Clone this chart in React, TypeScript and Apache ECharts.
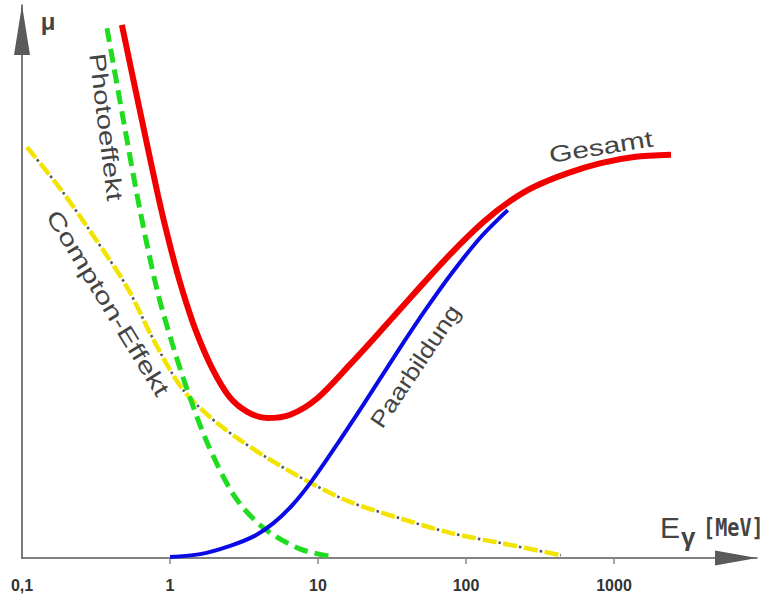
import React, { useEffect, useRef } from 'react';
import * as echarts from 'echarts';

// x-axis (photon energy, MeV, log scale)
const xTickValues = [1, 10, 100, 1000];
const xLabelValues = [0.1, 1, 10, 100, 1000];

// Gesamt (total attenuation)
const gesamtE = [0.473, 0.627, 0.831, 1.0, 1.2, 1.49, 1.92, 2.53, 3.35, 4.54, 6.49, 9.9, 16.6, 26.4, 44.2, 78.7, 131.6, 200, 287, 487, 815, 1364, 2428];
const gesamtMu = [96.4, 80.8, 65.5, 56.5, 48.8, 41.2, 34.4, 29.1, 26.4, 25.3, 25.9, 28.9, 35.1, 41.0, 47.7, 55.0, 60.8, 64.6, 67.1, 69.6, 71.4, 72.5, 72.9];

// Photoeffekt
const photoE = [0.375, 0.481, 0.627, 0.817, 1.032, 1.324, 1.814, 2.754, 4.3, 7.61, 12.7];
const photoMu = [95.8, 79.6, 62.9, 48.5, 38.9, 30.0, 20.4, 11.0, 5.4, 1.6, 0.2];

// Compton-Effekt
const comptonE = [0.108, 0.18, 0.301, 0.512, 0.732, 1.0, 1.26, 1.6, 2.08, 2.98, 4.54, 8.87, 16.6, 36.6, 79.3, 172, 438];
const comptonMu = [74.3, 66.9, 58.4, 49.0, 40.7, 34.0, 30.0, 27.1, 24.4, 21.3, 18.1, 13.6, 10.1, 7.1, 4.5, 2.7, 0.5];

// Paarbildung
const paarE = [1.0, 1.6, 2.55, 3.73, 5.0, 6.73, 9.06, 13.1, 20.2, 35.8, 53.6, 80.1, 125.6, 191.3];
const paarMu = [0.2, 0.7, 2.2, 4.0, 6.3, 9.6, 13.9, 20.1, 27.7, 38.0, 45.0, 51.5, 58.0, 62.9];

const pairs = (xs: number[], ys: number[]) => xs.map((x, i) => [x, ys[i]]);

const textColor = '#444';
const labelFont = 'Liberation Sans';

export default function App() {
  const ref = useRef<HTMLDivElement>(null);

  useEffect(() => {
    if (!ref.current) return;
    const chart = echarts.init(ref.current, null, { renderer: 'svg' });

    const curveLabel = (text: string, x: number, y: number, rotation: number, scaleX: number) => ({
      type: 'text',
      x,
      y,
      rotation,
      scaleX,
      z: 100,
      style: {
        text,
        fill: textColor,
        fontSize: 23,
        fontFamily: labelFont,
        align: 'center',
        verticalAlign: 'middle',
        textAlign: 'center',
        textVerticalAlign: 'middle',
      },
    });

    const lineSeries = (name: string, xs: number[], ys: number[], z: number, lineStyle: any) => ({
      name,
      type: 'line',
      data: pairs(xs, ys),
      smooth: 0.3,
      showSymbol: false,
      symbol: 'none',
      z,
      lineStyle,
    });

    chart.setOption({
      animation: false,
      backgroundColor: '#ffffff',
      grid: { left: 22, right: 10, top: 5, bottom: 44, containLabel: false, outerBoundsMode: 'none' },
      xAxis: {
        type: 'log',
        logBase: 10,
        min: 0.1,
        max: 9250,
        axisLine: {
          show: true,
          lineStyle: { color: '#5a5a5a', width: 1.6 },
          symbol: ['none', 'triangle'],
          symbolSize: [15, 42],
          symbolOffset: [0, -21],
        },
        axisTick: {
          show: true,
          customValues: xTickValues,
          length: 6,
          lineStyle: { color: '#888', width: 1.5 },
        },
        axisLabel: {
          show: true,
          customValues: xLabelValues,
          formatter: (v: number) => (v < 0.5 ? '0,1' : String(Math.round(v))),
          margin: 19,
          color: '#333',
          fontSize: 16,
          fontWeight: 'bold',
          fontFamily: labelFont,
        },
        splitLine: { show: false },
        minorTick: { show: false },
        minorSplitLine: { show: false },
      },
      yAxis: {
        type: 'value',
        min: 0,
        max: 100,
        axisLine: {
          show: true,
          lineStyle: { color: '#5a5a5a', width: 1.6 },
          symbol: ['none', 'triangle'],
          symbolSize: [16, 50],
          symbolOffset: [0, -25],
        },
        axisTick: { show: false },
        axisLabel: { show: false },
        splitLine: { show: false },
      },
      series: [
        lineSeries('Compton-Effekt', comptonE, comptonMu, 2, { color: '#f2e400', width: 4.5, type: [14, 7], cap: 'butt' }),
        lineSeries('Compton-Effekt (Punkte)', comptonE, comptonMu, 3, { color: '#555', width: 2.6, type: [2.5, 18.5], dashOffset: 4.75, cap: 'butt' }),
        lineSeries('Photoeffekt', photoE, photoMu, 4, { color: '#1fdc1f', width: 5, type: [14, 7], cap: 'butt' }),
        lineSeries('Paarbildung', paarE, paarMu, 5, { color: '#0a0ae6', width: 4 }),
        lineSeries('Gesamt', gesamtE, gesamtMu, 6, { color: '#f20000', width: 6 }),
      ],
      graphic: [
        {
          type: 'text',
          x: 48,
          y: 21,
          z: 100,
          style: {
            text: 'μ',
            fill: textColor,
            fontSize: 24,
            fontWeight: 'bold',
            fontFamily: labelFont,
            align: 'center',
            verticalAlign: 'middle',
            textAlign: 'center',
            textVerticalAlign: 'middle',
          },
        },
        curveLabel('Photoeffekt', 106, 127, -1.449, 1.28),
        curveLabel('Compton-Effekt', 108, 303, -1.02, 1.34),
        curveLabel('Paarbildung', 415, 366, 0.98, 1.16),
        curveLabel('Gesamt', 601, 147, 0.16, 1.3),
        {
          type: 'text',
          x: 660,
          y: 527,
          z: 100,
          style: {
            text: 'E',
            fill: textColor,
            fontSize: 30,
            fontFamily: labelFont,
            align: 'left',
            verticalAlign: 'middle',
            textAlign: 'left',
            textVerticalAlign: 'middle',
          },
        },
        {
          type: 'text',
          x: 681,
          y: 537,
          z: 100,
          style: {
            text: 'γ',
            fill: textColor,
            fontSize: 26,
            fontWeight: 'bold',
            fontFamily: labelFont,
            align: 'left',
            verticalAlign: 'middle',
            textAlign: 'left',
            textVerticalAlign: 'middle',
          },
        },
        {
          type: 'text',
          x: 703,
          y: 527,
          z: 100,
          scaleX: 0.84,
          style: {
            text: '[MeV]',
            fill: textColor,
            fontSize: 24,
            fontWeight: 'bold',
            fontFamily: 'DejaVu Sans Mono',
            align: 'left',
            verticalAlign: 'middle',
            textAlign: 'left',
            textVerticalAlign: 'middle',
          },
        },
      ],
    });

    return () => {
      chart.dispose();
    };
  }, []);

  return (
    <div
      ref={ref}
      style={{ position: 'absolute', left: 0, top: 0, width: 767, height: 602, background: '#fff' }}
    />
  );
}
